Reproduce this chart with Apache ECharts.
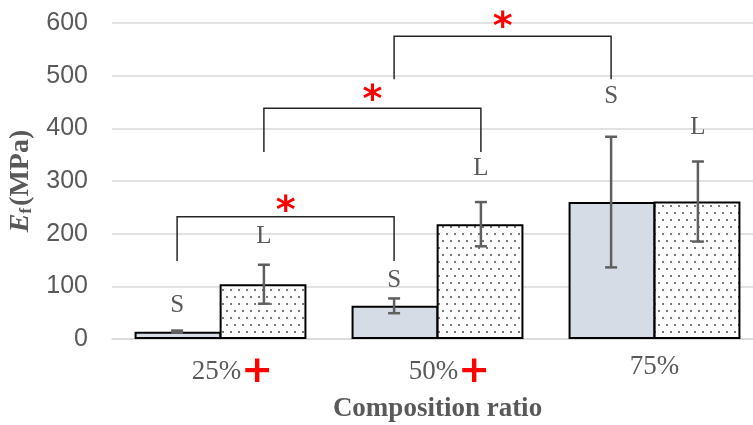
<!DOCTYPE html>
<html><head><meta charset="utf-8">
<script src="https://cdn.jsdelivr.net/npm/echarts@6/dist/echarts.min.js"></script>
<style>html,body{margin:0;padding:0;background:#fff}#c{width:753px;height:425px}</style>
</head><body><div id="c"></div>
<script>
// ---- data ----
const categories = ['25%', '50%', '75%'];
const categoryMarks = ['+', '+', ''];
const valuesS = [14, 63, 260];
const valuesL = [104, 218, 261];
const errS = [2, 14, 124];
const errL = [37, 42, 76];
const labelHeightS = [64, 112, 461];
const labelHeightL = [195, 324, 402];
const yTicks = [0, 100, 200, 300, 400, 500, 600];
// significance brackets (side: -1 = S bar, +1 = L bar)
const bracketFromCat = [0, 0, 1];
const bracketFromSide = [-1, 1, -1];
const bracketToCat = [1, 1, 2];
const bracketToSide = [-1, 1, -1];
const bracketTop = [232, 438, 575];
const bracketLegEnd = [148, 355, 493];
const bracketStar = [260, 471, 609];

// ---- drawing ----
const GREY = '#595959';
function dotPattern() {
  const c = document.createElement('canvas');
  c.width = 8; c.height = 14;
  const g = c.getContext('2d');
  g.fillStyle = '#ffffff'; g.fillRect(0, 0, 8, 14);
  g.fillStyle = '#7a7a7a';
  g.fillRect(2, 2, 2, 2);
  g.fillRect(6, 9, 2, 2);
  return c;
}
const HALF = 0.2; // bar centre offset as fraction of band
function barX(api, cat, side) {
  const band = api.size([1, 0])[0];
  return api.coord([cat, 0])[0] + side * HALF * band;
}
function errRender(side) {
  return function (params, api) {
    const i = api.value(0);
    const x = barX(api, i, side);
    const yHi = api.coord([i, api.value(2)])[1];
    const yLo = api.coord([i, api.value(1)])[1];
    const cap = 6;
    const st = { stroke: '#5f5f5f', lineWidth: 2.5 };
    return { type: 'group', children: [
      { type: 'line', shape: { x1: x, y1: yHi, x2: x, y2: yLo }, style: st },
      { type: 'line', shape: { x1: x - cap, y1: yHi, x2: x + cap, y2: yHi }, style: st },
      { type: 'line', shape: { x1: x - cap, y1: yLo, x2: x + cap, y2: yLo }, style: st }
    ] };
  };
}
function labelRender(side, text) {
  return function (params, api) {
    const i = api.value(0);
    const x = barX(api, i, side);
    const y = api.coord([i, api.value(1)])[1];
    return { type: 'text', x: x, y: y, style: { text: text, fill: GREY,
      font: '25px "Liberation Serif"', align: 'center', verticalAlign: 'middle' } };
  };
}
function bracketRender(params, api) {
  const x1 = barX(api, api.value(0), api.value(1));
  const x2 = barX(api, api.value(2), api.value(3));
  const yTop = api.coord([0, api.value(4)])[1];
  const yLeg = api.coord([0, api.value(5)])[1];
  const yStar = api.coord([0, api.value(6)])[1];
  return { type: 'group', children: [
    { type: 'polyline', shape: { points: [[x1, yLeg], [x1, yTop], [x2, yTop], [x2, yLeg]] },
      style: { stroke: '#262626', lineWidth: 1.5, fill: null } },
    { type: 'text', x: (x1 + x2) / 2, y: yStar + 10, style: { text: '*', fill: '#ff0000',
      font: 'bold 38px "DejaVu Sans"', align: 'center', verticalAlign: 'middle' } }
  ] };
}

const chart = echarts.init(document.getElementById('c'), null, { renderer: 'canvas' });
chart.setOption({
  animation: false,
  grid: { left: 112, width: 651, top: 23, bottom: 86, containLabel: false, outerBoundsMode: 'none' },
  xAxis: {
    type: 'category', data: categories,
    axisTick: { show: false },
    axisLine: { show: true, lineStyle: { color: '#d9d9d9', width: 1.5 } },
    axisLabel: {
      margin: 14,
      formatter: function (v, i) {
        return categoryMarks[i] ? '{s| }{a|' + v + '}{p|' + categoryMarks[i] + '}' : '{a|' + v + '}';
      },
      rich: {
        s: { width: 24, fontSize: 27 },
        a: { fontFamily: 'Liberation Serif', fontSize: 27, color: GREY },
        p: { fontFamily: 'DejaVu Sans', fontWeight: 'bold', fontSize: 38, color: '#ff0000' }
      }
    },
    name: 'Composition ratio', nameLocation: 'middle', nameGap: 57,
    nameTextStyle: { fontFamily: 'Liberation Serif', fontWeight: 'bold', fontSize: 27, color: GREY }
  },
  yAxis: {
    type: 'value', min: yTicks[0], max: yTicks[yTicks.length - 1], interval: 100,
    axisLine: { show: false }, axisTick: { show: false },
    splitLine: { lineStyle: { color: '#d9d9d9', width: 1.5 } },
    axisLabel: { margin: 24, fontFamily: 'Liberation Sans', fontSize: 25, color: GREY },
    name: '{e|E}{f|f}{m|(MPa)}', nameLocation: 'middle', nameGap: 68, nameRotate: 90,
    nameTextStyle: {
      rich: {
        e: { fontFamily: 'Liberation Serif', fontStyle: 'italic', fontWeight: 'bold', fontSize: 28, color: GREY },
        f: { fontFamily: 'Liberation Serif', fontWeight: 'bold', fontSize: 17, color: GREY, verticalAlign: 'bottom', padding: [12, 2, 0, 0] },
        m: { fontFamily: 'Liberation Serif', fontWeight: 'bold', fontSize: 28, color: GREY }
      }
    }
  },
  series: [
    { name: 'S', type: 'bar', data: valuesS, barWidth: '40%', barGap: '-2%',
      itemStyle: { color: '#d6dce5', borderColor: '#000', borderWidth: 2 }, z: 2 },
    { name: 'L', type: 'bar', data: valuesL, barWidth: '40%', barGap: '-2%',
      itemStyle: { color: { image: dotPattern(), repeat: 'repeat' }, borderColor: '#000', borderWidth: 2 }, z: 2 },
    { type: 'custom', renderItem: errRender(-1), z: 5,
      data: categories.map((c, i) => [i, valuesS[i] - errS[i], valuesS[i] + errS[i]]) },
    { type: 'custom', renderItem: errRender(1), z: 5,
      data: categories.map((c, i) => [i, valuesL[i] - errL[i], valuesL[i] + errL[i]]) },
    { type: 'custom', renderItem: labelRender(-1, 'S'), z: 5,
      data: categories.map((c, i) => [i, labelHeightS[i]]) },
    { type: 'custom', renderItem: labelRender(1, 'L'), z: 5,
      data: categories.map((c, i) => [i, labelHeightL[i]]) },
    { type: 'custom', renderItem: bracketRender, z: 6, clip: false,
      encode: { x: 0, y: 4 },
      data: bracketTop.map((t, k) => [bracketFromCat[k], bracketFromSide[k], bracketToCat[k], bracketToSide[k], t, bracketLegEnd[k], bracketStar[k]]) }
  ]
});
</script></body></html>
